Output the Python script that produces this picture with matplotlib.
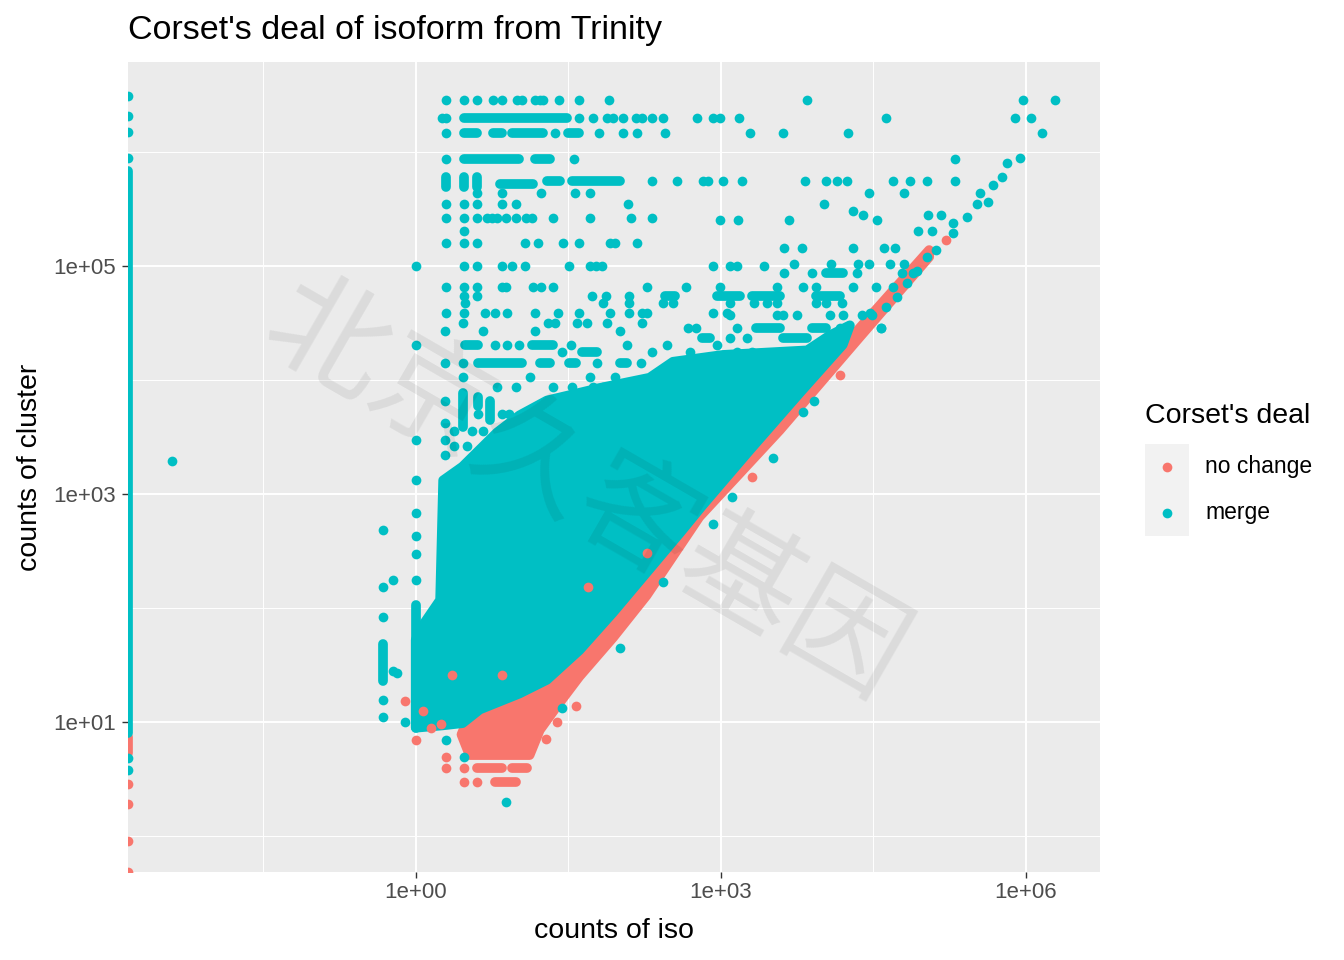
import numpy as np
import matplotlib.pyplot as plt
from matplotlib.patches import Rectangle
from matplotlib.lines import Line2D
from matplotlib.ticker import FixedLocator, NullFormatter

plt.rcParams['font.family'] = ['Liberation Sans', 'DejaVu Sans']

TEAL = '#00BFC4'
RED = '#F8766D'

categories = ['no change', 'merge']
colors = [RED, TEAL]

# all values below are log10(counts)
# dense overplotted cores (outline of the overlapping dots)
merge_core = [(0.27, 3.12), (0.46, 3.24), (0.63, 3.39), (0.80, 3.54), (1.02, 3.69),
              (1.29, 3.82), (1.81, 3.93), (2.30, 4.02), (2.53, 4.16), (3.02, 4.22),
              (3.85, 4.26), (4.07, 4.39), (4.27, 4.48), (4.20, 4.31), (3.78, 3.89),
              (3.29, 3.39), (2.82, 2.90), (2.60, 2.66), (2.27, 2.31), (1.94, 1.96),
              (1.61, 1.63), (1.29, 1.37), (1.02, 1.25), (0.63, 1.11), (0.46, 0.99),
              (0.26, 0.97), (0.0, 0.95), (0.0, 1.72), (0.04, 1.81), (0.24, 2.07),
              (0.26, 2.77)]
nochange_core = [(5.05, 5.08), (4.37, 4.38), (3.58, 3.56), (2.79, 2.80), (2.27, 2.11),
                 (1.94, 1.74), (1.61, 1.40), (1.39, 1.14), (1.22, 0.93), (1.12, 0.71),
                 (0.53, 0.71), (0.45, 0.89), (0.53, 1.06), (1.02, 1.30), (1.61, 1.68),
                 (2.30, 2.38), (2.79, 2.90), (3.58, 3.67), (4.37, 4.46), (5.05, 5.14)]

# rows of touching dots: (cluster, iso_from, iso_to)
merge_hruns = [(6.30, 0.47, 1.49), (6.17, 0.47, 0.60), (6.17, 0.76, 0.85), (6.17, 0.95, 1.25),
               (6.17, 1.50, 1.61), (5.94, 0.47, 1.02), (5.94, 1.17, 1.32), (5.72, 0.83, 1.15),
               (5.75, 1.29, 1.42), (5.75, 1.54, 2.01), (4.94, 4.04, 4.20), (4.74, 2.45, 2.55),
               (4.74, 2.96, 3.19), (4.74, 3.31, 3.58), (4.74, 3.94, 4.17), (4.46, 3.35, 3.58),
               (4.46, 3.90, 4.04), (4.37, 2.82, 2.89), (4.37, 3.61, 3.85), (4.31, 0.48, 0.61),
               (4.31, 1.14, 1.35), (4.25, 1.64, 1.78), (4.15, 0.61, 1.05), (4.15, 1.22, 1.32),
               (4.15, 1.51, 1.58), (4.15, 2.01, 2.08)]
# columns of touching dots: (iso, cluster_from, cluster_to)
merge_vruns = [(0.30, 5.69, 5.78), (0.47, 5.69, 5.78), (0.60, 5.69, 5.78),
               (0.46, 3.59, 3.89), (0.61, 3.77, 3.85), (0.73, 3.65, 3.82),
               (0.0, 0.95, 2.03), (-0.32, 1.36, 1.68)]
nochange_hruns = [(0.60, 0.60, 0.85), (0.60, 0.95, 1.09), (0.47, 0.78, 0.99)]

merge_top = [(x, 6.46) for x in [0.30, 0.47, 0.60, 0.76, 0.85, 1.00, 1.05, 1.17, 1.22, 1.25,
                                 1.41, 1.61, 1.90, 3.85, 5.97, 6.29]]
merge_top += [(x, 6.30) for x in [0.26, 0.30, 1.61, 1.74, 1.88, 1.94, 2.04, 2.17, 2.23, 2.32,
                                  2.43, 2.77, 2.92, 2.99, 3.18, 4.63, 5.89, 6.05]]
merge_top += [(x, 6.17) for x in [0.30, 1.37, 1.80, 2.04, 2.18, 2.45, 3.29, 3.61, 4.25, 6.16]]
merge_top += [(x, 5.94) for x in [0.30, 1.56, 5.30]]
merge_top += [(x, 5.75) for x in [2.32, 2.57, 2.83, 2.87, 3.02, 3.21, 3.83, 4.04, 4.14, 4.24,
                                  4.69, 4.86, 5.03, 5.30]]

merge_mid = [(x, 5.64) for x in [0.60, 0.85, 1.23, 1.57, 1.71, 4.46, 4.80]]
merge_mid += [(x, 5.54) for x in [0.30, 0.47, 0.60, 0.85, 0.99, 2.09, 4.02]]
merge_mid += [(4.30, 5.48), (4.40, 5.45), (5.04, 5.45), (5.17, 5.45)]
merge_mid += [(x, 5.42) for x in [0.30, 0.47, 0.60, 0.70, 0.75, 0.80, 0.89, 0.99, 1.08, 1.14,
                                  1.35, 1.71, 2.12, 2.32]]
merge_mid += [(x, 5.40) for x in [2.99, 3.17, 3.67, 4.54]]
merge_mid += [(0.47, 5.31), (4.94, 5.31), (5.08, 5.31)]
merge_mid += [(x, 5.20) for x in [0.30, 0.47, 0.60, 1.07, 1.20, 1.45, 1.61, 1.91, 1.96, 2.18]]
merge_mid += [(x, 5.16) for x in [3.62, 3.80, 4.30, 4.61, 4.71]]
merge_mid += [(x, 5.00) for x in [0.0, 0.47, 0.60, 0.85, 0.95, 1.07, 1.51, 1.71, 1.77, 1.83,
                                  2.92, 3.09, 3.16, 3.43]]
merge_mid += [(x, 5.02) for x in [3.72, 4.08, 4.35, 4.46, 4.66, 4.80]]
merge_mid += [(x, 4.94) for x in [3.62, 3.90, 4.34, 4.78, 4.89]]
merge_mid += [(x, 4.82) for x in [0.30, 0.47, 0.60, 0.85, 0.89, 1.15, 1.23, 1.35, 2.27, 2.66,
                                  2.99, 3.55, 3.81, 3.94, 4.30, 4.53, 4.69]]
merge_mid += [(x, 4.74) for x in [0.47, 0.60, 1.73, 1.87, 2.10]]
merge_mid += [(x, 4.68) for x in [0.48, 1.84, 2.10, 2.43, 2.53, 3.09, 3.33, 3.45, 3.55, 3.94,
                                  4.04, 4.19]]
merge_mid += [(x, 4.59) for x in [0.30, 0.47, 0.68, 0.78, 0.90, 1.17, 1.40, 1.61, 1.91, 2.10,
                                  2.23, 2.27, 2.92, 3.06]]
merge_mid += [(x, 4.57) for x in [3.09, 3.55, 3.61, 3.75, 4.07, 4.20, 4.39, 4.49]]
merge_mid += [(x, 4.50) for x in [0.46, 1.30, 1.37, 1.59, 1.68, 1.88, 2.23]]
merge_mid += [(x, 4.46) for x in [2.68, 2.76, 3.16, 4.17, 4.58]]
merge_mid += [(x, 4.43) for x in [0.29, 0.66, 1.17, 2.01]]
merge_mid += [(x, 4.37) for x in [3.09, 3.26, 4.17]]
merge_mid += [(x, 4.31) for x in [0.0, 0.78, 0.90, 1.02, 1.53, 2.08, 2.47, 2.96]]
merge_mid += [(x, 4.25) for x in [1.44, 2.32, 2.70, 3.16, 3.31, 3.61, 4.10]]
merge_mid += [(x, 4.15) for x in [0.29, 0.46, 1.78, 2.22]]
merge_mid += [(x, 4.03) for x in [0.46, 1.12, 1.71, 1.96]]
merge_mid += [(x, 3.94) for x in [0.80, 0.99, 1.35, 1.54, 1.74, 1.84]]
merge_mid += [(x, 3.70) for x in [0.61, 0.85, 0.92]]
merge_mid += [(x, 3.55) for x in [0.38, 0.55, 0.66, 0.90]]
merge_mid += [(x, 3.42) for x in [0.38, 0.50]]
merge_mid += [(0.29, y) for y in [3.82, 3.62, 3.47, 3.34]]

merge_low = [(0.0, y) for y in [3.47, 3.12, 2.83, 2.63, 2.47, 2.25]]
merge_low += [(-0.32, y) for y in [2.68, 2.18, 1.92, 1.19, 1.04]]
merge_low += [(-0.22, 2.25), (-0.22, 1.45), (-0.18, 1.43), (-0.11, 1.00),
              (0.30, 0.84), (0.47, 0.69), (0.89, 0.30), (-2.40, 3.29)]

merge_diag = [(5.94, 5.95), (5.82, 5.90), (5.77, 5.78), (5.68, 5.71), (5.55, 5.64), (5.52, 5.54),
              (5.63, 5.56), (5.42, 5.43), (5.28, 5.38), (5.28, 5.29), (5.12, 5.14), (5.03, 5.08),
              (4.93, 4.96), (4.83, 4.85), (4.73, 4.73), (4.63, 4.64), (4.47, 4.59), (4.58, 4.46),
              (2.01, 1.65), (2.92, 2.74), (2.43, 2.23), (3.11, 2.97), (1.44, 1.12), (3.81, 3.72),
              (3.92, 3.82), (3.51, 3.32)]

nochange_pts = [(5.22, 5.23), (0.30, 0.60), (0.47, 0.60), (0.47, 0.47), (0.60, 0.47),
                (0.30, 0.69), (0.0, 0.84), (-0.11, 1.18), (1.58, 1.14), (1.39, 1.00),
                (1.28, 0.85), (0.07, 1.10), (0.15, 0.95), (0.25, 0.98), (0.85, 1.41),
                (0.36, 1.41), (1.69, 2.18), (2.27, 2.48), (4.17, 4.04), (3.31, 3.15)]

# iso count of 0 (log gives -Inf, drawn on the panel edge): cluster values
merge_zero = [6.49, 6.32, 6.18, 5.95, 0.68, 0.58]
merge_zero_run = (0.90, 5.83)
nochange_zero = [0.46, 0.28, -0.04, -0.316]
nochange_zero_run = (0.73, 0.87)

x_lo, x_hi = -2.83, 6.73
y_lo, y_hi = -0.316, 6.79
x_major = [0, 3, 6]
x_minor = [-1.5, 1.5, 4.5]
y_major = [1, 3, 5]
y_minor = [0, 2, 4, 6]

DOT = 7.0  # points


def split(pairs):
    a = np.array(pairs, dtype=float)
    return 10 ** a[:, 0], 10 ** a[:, 1]


fig = plt.figure(figsize=(13.44, 9.6), dpi=100)
ax = fig.add_axes([128 / 1344, 1 - 872 / 960, 972 / 1344, 810 / 960])
ax.set_xscale('log')
ax.set_yscale('log')
ax.set_facecolor('#EBEBEB')
for s in ax.spines.values():
    s.set_visible(False)

x_edge = 10 ** x_lo

# no change
cx, cy = split(nochange_core)
ax.fill(cx, cy, color=RED, lw=DOT, joinstyle='round', zorder=2)
for ly, a, b in nochange_hruns:
    ax.plot([10 ** a, 10 ** b], [10 ** ly] * 2, color=RED, lw=DOT, solid_capstyle='round', zorder=2)
ax.plot([x_edge] * 2, 10 ** np.array(nochange_zero_run), color=RED, lw=DOT,
        solid_capstyle='round', zorder=2)
ax.plot([x_edge] * len(nochange_zero), 10 ** np.array(nochange_zero), 'o', ms=DOT,
        mec='none', color=RED, zorder=2)

# merge
cx, cy = split(merge_core)
ax.fill(cx, cy, color=TEAL, lw=DOT, joinstyle='round', zorder=3)
for ly, a, b in merge_hruns:
    ax.plot([10 ** a, 10 ** b], [10 ** ly] * 2, color=TEAL, lw=DOT, solid_capstyle='round', zorder=3)
for lx, a, b in merge_vruns:
    ax.plot([10 ** lx] * 2, [10 ** a, 10 ** b], color=TEAL, lw=DOT, solid_capstyle='round', zorder=3)
for group in [merge_top, merge_mid, merge_low, merge_diag]:
    gx, gy = split(group)
    ax.plot(gx, gy, 'o', ms=DOT, mec='none', color=TEAL, zorder=3)
ax.plot([x_edge] * 2, 10 ** np.array(merge_zero_run), color=TEAL, lw=DOT,
        solid_capstyle='round', zorder=3)
ax.plot([x_edge] * len(merge_zero), 10 ** np.array(merge_zero), 'o', ms=DOT,
        mec='none', color=TEAL, zorder=3)

# scattered no-change dots drawn over merge
nx, ny = split(nochange_pts)
ax.plot(nx, ny, 'o', ms=DOT, mec='none', color=RED, zorder=4)

ax.set_xlim(10 ** x_lo, 10 ** x_hi)
ax.set_ylim(10 ** y_lo, 10 ** y_hi)
ax.xaxis.set_major_locator(FixedLocator([10.0 ** v for v in x_major]))
ax.xaxis.set_minor_locator(FixedLocator([10.0 ** v for v in x_minor]))
ax.yaxis.set_major_locator(FixedLocator([10.0 ** v for v in y_major]))
ax.yaxis.set_minor_locator(FixedLocator([10.0 ** v for v in y_minor]))
ax.set_xticklabels(['1e%+03d' % v for v in x_major])
ax.set_yticklabels(['1e%+03d' % v for v in y_major])
ax.xaxis.set_minor_formatter(NullFormatter())
ax.yaxis.set_minor_formatter(NullFormatter())
ax.grid(which='major', color='white', lw=1.4, zorder=1)
ax.grid(which='minor', color='white', lw=0.7, zorder=1)
ax.set_axisbelow(True)
ax.tick_params(which='major', length=4.5, width=1.0, color='#333333',
               labelsize=16, labelcolor='#4D4D4D', pad=3)
ax.tick_params(axis='y', which='major', pad=4)
ax.tick_params(which='minor', length=0)

# watermark
fig.text(585 / 1344, 1 - 492 / 960, '北京久客基因', family=['Noto Sans CJK SC', 'DejaVu Sans'],
         fontsize=86, color='black', alpha=0.07, rotation=-30, ha='center', va='center',
         rotation_mode='anchor', zorder=10)

fig.text(128 / 1344, 1 - 31 / 960, "Corset's deal of isoform from Trinity", fontsize=24.5,
         ha='left', va='center')
fig.text(614 / 1344, 1 - 931 / 960, 'counts of iso', fontsize=20.5, ha='center', va='center')
fig.text(30 / 1344, 1 - 467 / 960, 'counts of cluster', fontsize=20.5, ha='center',
         va='center', rotation=90)

# legend
fig.text(1145 / 1344, 1 - 416 / 960, "Corset's deal", fontsize=20.5, ha='left', va='center')
for i, (lab, col) in enumerate(zip(categories, colors)):
    yc = 467 + 46 * i
    fig.patches.append(Rectangle((1145 / 1344, 1 - (yc + 23) / 960), 44 / 1344, 46 / 960,
                                 transform=fig.transFigure, color='#F2F2F2', lw=0))
    fig.lines.append(Line2D([1167 / 1344], [1 - yc / 960], marker='o', ms=DOT, mec='none',
                            color=col, transform=fig.transFigure))
    fig.text(1205 / 1344, 1 - yc / 960, lab, fontsize=16.5, ha='left', va='center')

fig.savefig('out.png', dpi=100, facecolor='white')
